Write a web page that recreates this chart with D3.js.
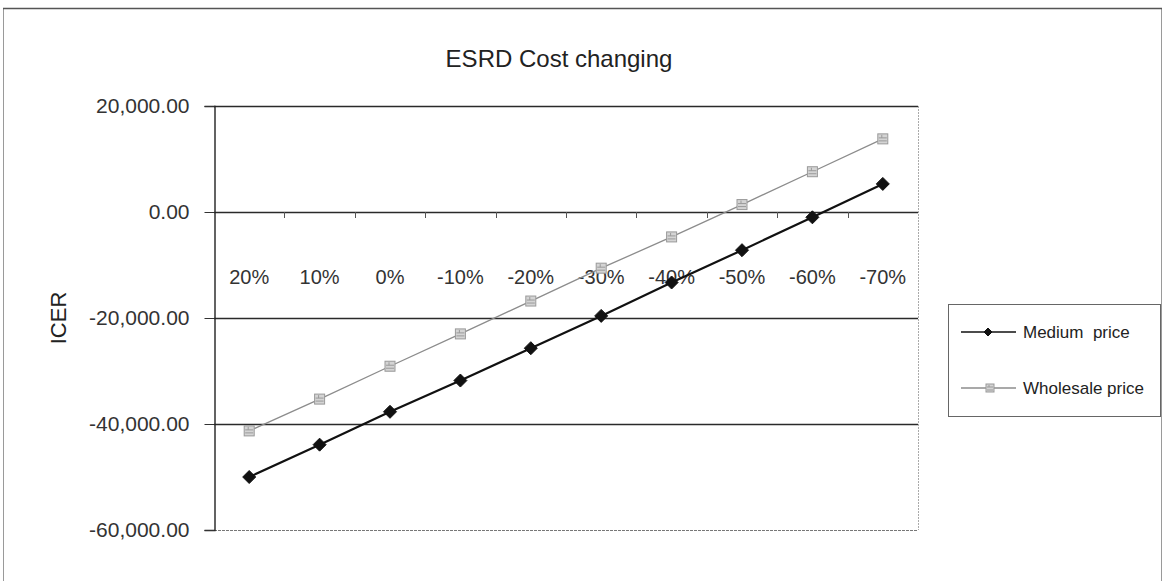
<!DOCTYPE html>
<html>
<head>
<meta charset="utf-8">
<script src="https://cdn.jsdelivr.net/npm/d3@7"></script>
<style>
  html, body { margin: 0; padding: 0; background: #fff; }
  svg { display: block; font-family: "Liberation Sans", Arial, sans-serif; }
</style>
</head>
<body>
<svg id="chart" width="1165" height="581"></svg>
<script>
// Cost change scenarios (x axis)
const categories = ["20%", "10%", "0%", "-10%", "-20%", "-30%", "-40%", "-50%", "-60%", "-70%"];
// ICER per scenario
const mediumPrice = [-50000, -43900, -37700, -31800, -25700, -19600, -13300, -7200, -1000, 5300];
const wholesalePrice = [-41300, -35300, -29100, -23000, -16800, -10600, -4700, 1400, 7600, 13800];
const yTicks = [20000, 0, -20000, -40000, -60000];
const seriesNames = ["Medium  price", "Wholesale price"];

const svg = d3.select("#chart");

const plot = { left: 214, right: 918, top: 106, bottom: 530 };

const x = d3.scaleBand().domain(categories).range([plot.left, plot.right]).paddingInner(0).paddingOuter(0);
const cx = c => x(c) + x.bandwidth() / 2;
const y = d3.scaleLinear().domain([-60000, 20000]).range([plot.bottom, plot.top]);

const fmt = d3.formatLocale({ decimal: ".", thousands: ",", grouping: [3], currency: ["", ""], minus: "-" }).format(",.2f");

// outer chart frame
svg.append("rect")
  .attr("x", 3.5).attr("y", 8.5).attr("width", 1158).attr("height", 580)
  .attr("fill", "none").attr("stroke", "#9a9a9a").attr("stroke-width", 1);
svg.append("line")
  .attr("x1", 3).attr("x2", 1162).attr("y1", 8.5).attr("y2", 8.5)
  .attr("stroke", "#555").attr("stroke-width", 1.5);

// title
svg.append("text")
  .attr("x", 559).attr("y", 67)
  .attr("text-anchor", "middle")
  .attr("font-size", 24).attr("fill", "#222")
  .text("ESRD Cost changing");

// right edge of plot area
svg.append("line")
  .attr("x1", plot.right + 0.5).attr("x2", plot.right + 0.5)
  .attr("y1", plot.top).attr("y2", plot.bottom)
  .attr("stroke", "#aaa").attr("stroke-width", 1).attr("stroke-dasharray", "2,1");

// horizontal gridlines
svg.append("g").selectAll("line")
  .data(yTicks.filter(v => v !== -60000))
  .join("line")
  .attr("x1", plot.left).attr("x2", plot.right)
  .attr("y1", d => Math.round(y(d)) + 0.5).attr("y2", d => Math.round(y(d)) + 0.5)
  .attr("stroke", "#2a2a2a").attr("stroke-width", 1.3);

// bottom edge of plot area
svg.append("line")
  .attr("x1", plot.left).attr("x2", plot.right)
  .attr("y1", plot.bottom + 0.5).attr("y2", plot.bottom + 0.5)
  .attr("stroke", "#777").attr("stroke-width", 1).attr("stroke-dasharray", "3,1");

// y axis
const yAxis = svg.append("g")
  .attr("transform", `translate(${plot.left + 0.5},0)`)
  .call(d3.axisLeft(y).tickValues(yTicks).tickFormat(fmt).tickSize(10).tickPadding(15));
yAxis.select(".domain").attr("stroke", "#222").attr("stroke-width", 1.4);
yAxis.selectAll(".tick line").attr("stroke", "#333");
yAxis.selectAll(".tick text")
  .attr("font-size", 21).attr("fill", "#333")
  .attr("font-family", "'Liberation Sans', Arial, sans-serif");

// y axis title
svg.append("text")
  .attr("transform", "translate(66,318) rotate(-90)")
  .attr("text-anchor", "middle")
  .attr("font-size", 22).attr("fill", "#222")
  .text("ICER");

// category ticks on the zero line
svg.append("g").selectAll("line")
  .data(categories.slice(1))
  .join("line")
  .attr("x1", d => Math.round(x(d)) + 0.5).attr("x2", d => Math.round(x(d)) + 0.5)
  .attr("y1", y(0)).attr("y2", y(0) + 6)
  .attr("stroke", "#555");

// category labels
svg.append("g").selectAll("text")
  .data(categories)
  .join("text")
  .attr("x", d => cx(d))
  .attr("y", y(0) + 72)
  .attr("text-anchor", "middle")
  .attr("font-size", 20).attr("fill", "#333")
  .text(d => d);

const line = d3.line().x((d, i) => cx(categories[i])).y(d => y(d));

// markers
function diamond(g, px, py, r) {
  g.append("path")
    .attr("d", `M${px},${py - r}L${px + r},${py}L${px},${py + r}L${px - r},${py}Z`)
    .attr("fill", "#111").attr("stroke", "#111").attr("stroke-width", 1);
}
function square(g, px, py, s) {
  g.append("rect")
    .attr("x", px - s / 2).attr("y", py - s / 2).attr("width", s).attr("height", s)
    .attr("fill", "#d4d4d4").attr("stroke", "#999").attr("stroke-width", 1);
  g.append("path")
    .attr("d", `M${px - s / 2 + 1},${py - 1}H${px + s / 2 - 1}M${px - s / 2 + 1},${py + 2}H${px + s / 2 - 1}M${px - 1},${py - s / 2 + 1}V${py - 1}`)
    .attr("stroke", "#9a9a9a").attr("stroke-width", 1);
}

// wholesale price series
svg.append("path")
  .datum(wholesalePrice)
  .attr("d", line)
  .attr("fill", "none").attr("stroke", "#8c8c8c").attr("stroke-width", 1.3);
const gW = svg.append("g");
wholesalePrice.forEach((v, i) => square(gW, cx(categories[i]), y(v), 10));

// medium price series
svg.append("path")
  .datum(mediumPrice)
  .attr("d", line)
  .attr("fill", "none").attr("stroke", "#111").attr("stroke-width", 2.2);
const gM = svg.append("g");
mediumPrice.forEach((v, i) => diamond(gM, cx(categories[i]), y(v), 6.5));

// legend
const lg = svg.append("g");
lg.append("rect")
  .attr("x", 948.5).attr("y", 304.5).attr("width", 212).attr("height", 112)
  .attr("fill", "#fff").attr("stroke", "#666").attr("stroke-width", 1);
const legendRows = [332, 388];
seriesNames.forEach((name, i) => {
  const ly = legendRows[i];
  lg.append("line")
    .attr("x1", 961).attr("x2", 1016).attr("y1", ly).attr("y2", ly)
    .attr("stroke", i === 0 ? "#111" : "#8c8c8c").attr("stroke-width", i === 0 ? 1.5 : 1.3);
  if (i === 0) diamond(lg, 988, ly, 4);
  else square(lg, 990, ly, 8);
  lg.append("text")
    .attr("x", 1023).attr("y", ly)
    .attr("dy", "0.35em")
    .attr("font-size", 17).attr("fill", "#222")
    .attr("xml:space", "preserve")
    .style("white-space", "pre")
    .text(name);
});
</script>
</body>
</html>
